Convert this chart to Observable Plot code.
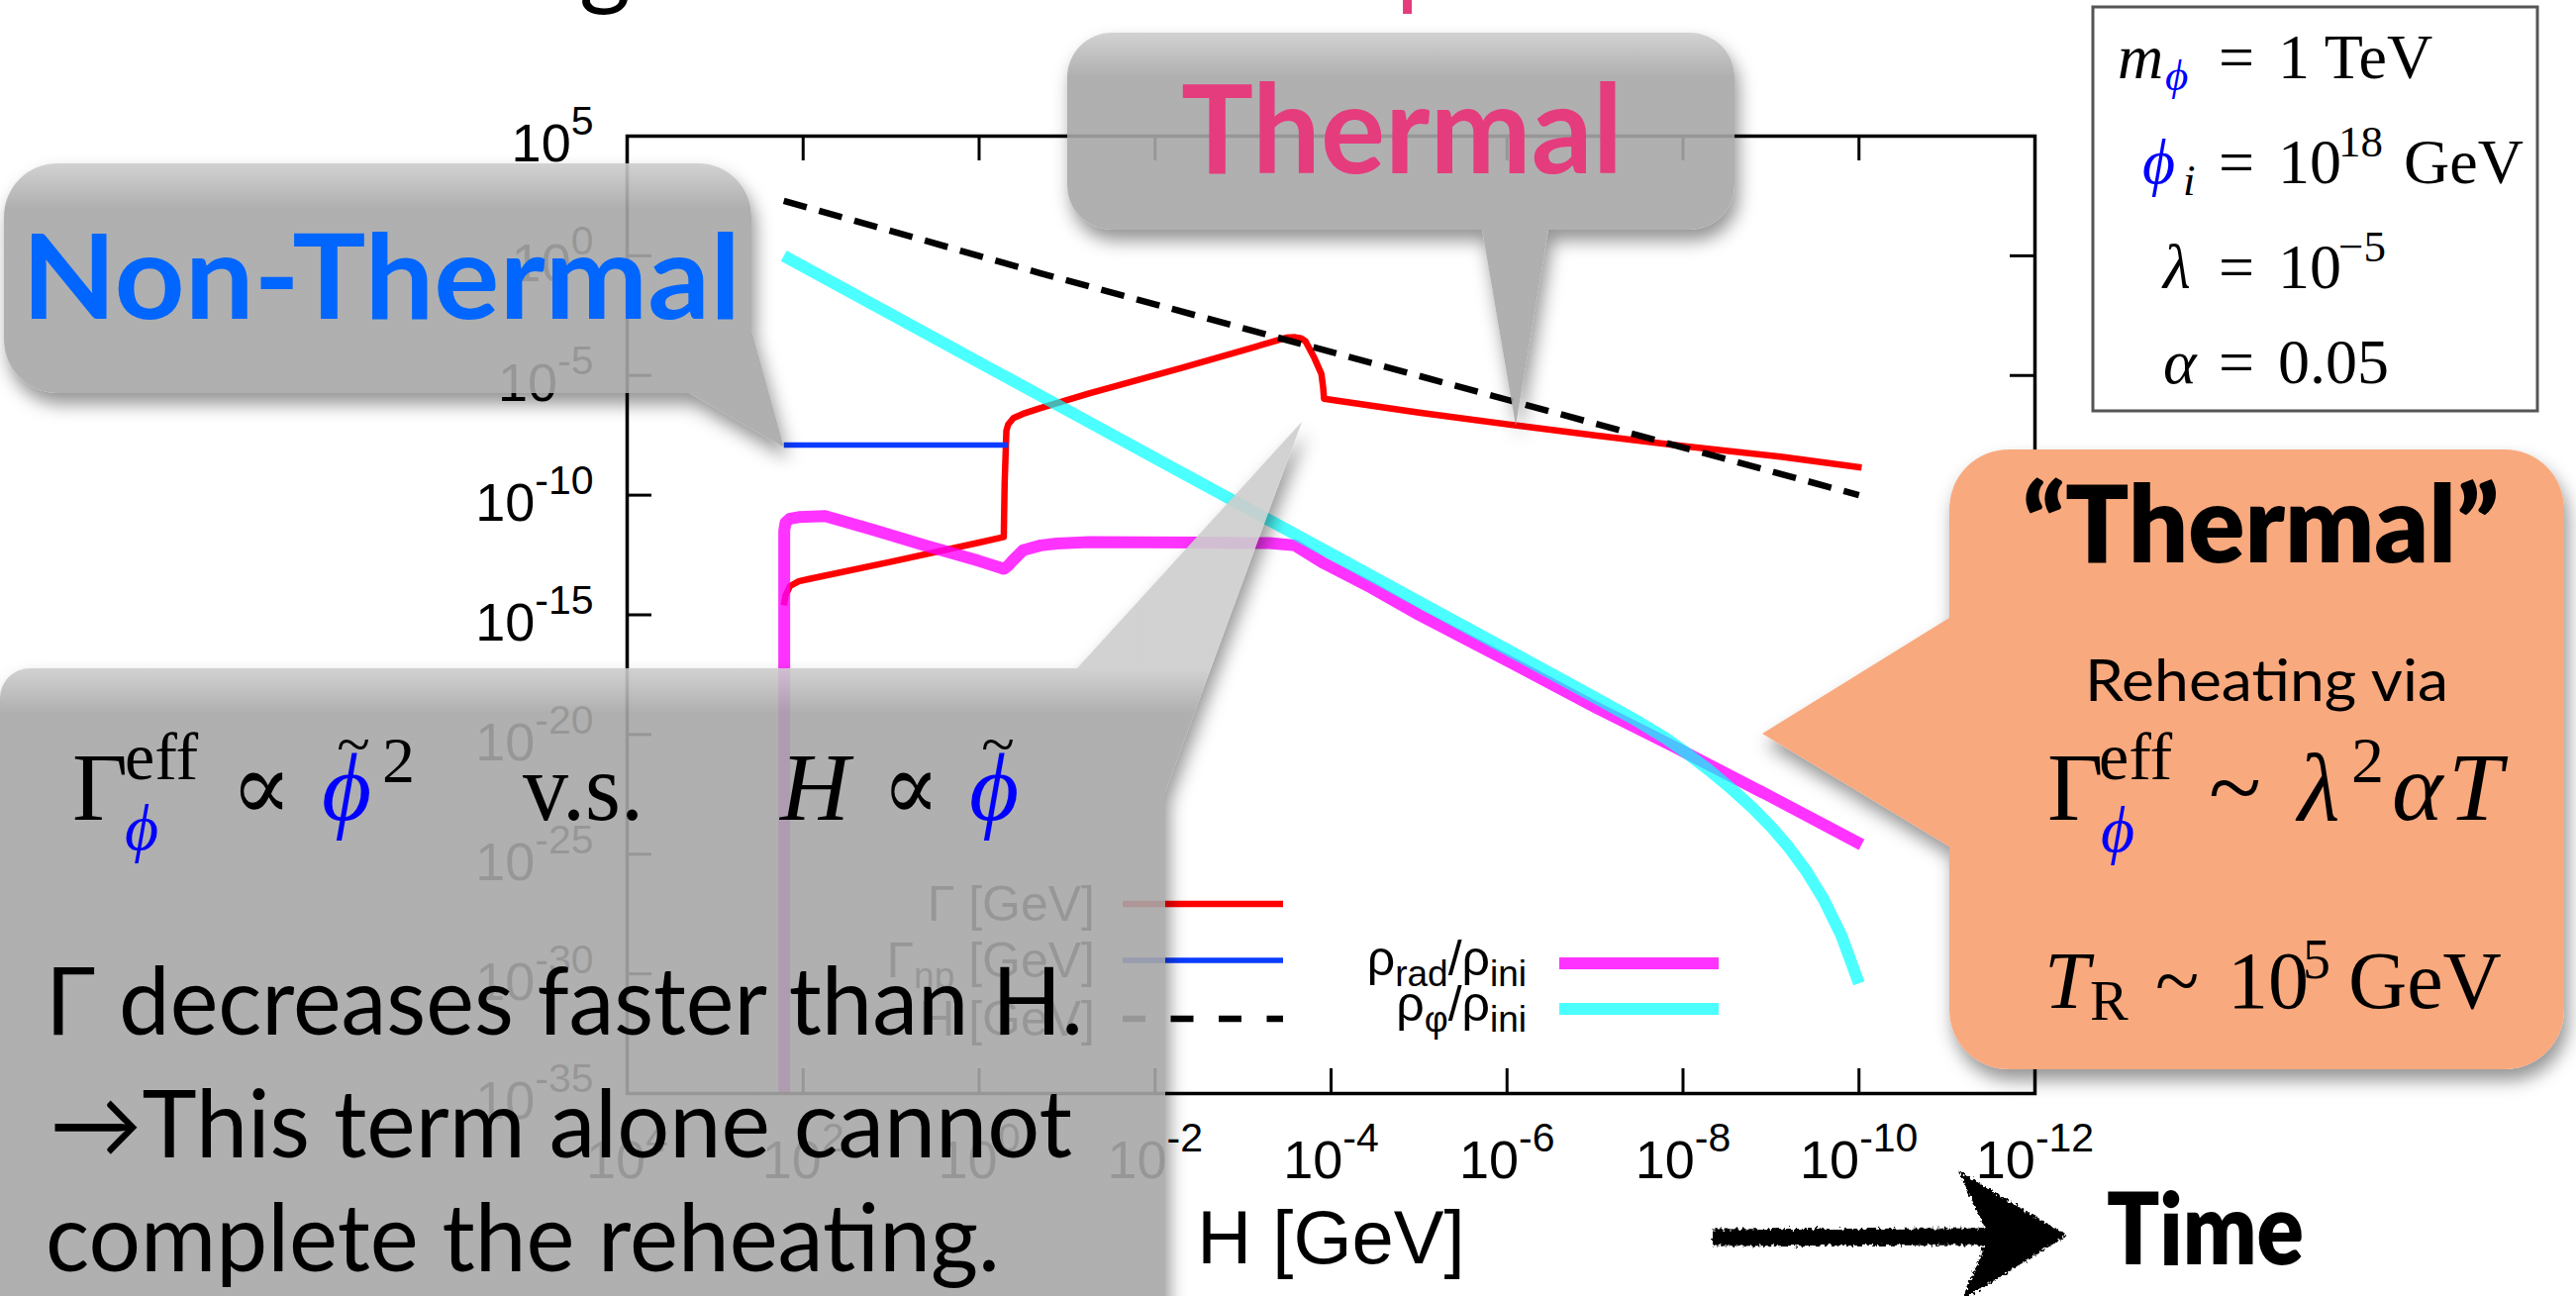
<!DOCTYPE html>
<html><head><meta charset="utf-8">
<script src="https://cdn.jsdelivr.net/npm/d3@7"></script>
<script src="https://cdn.jsdelivr.net/npm/@observablehq/plot@0.6"></script>
<style>
html,body{margin:0;padding:0;background:#fff;}
#wrap{position:relative;width:2602px;height:1309px;overflow:hidden;background:#fff;}
#chart{position:absolute;left:0;top:0;}
#over{position:absolute;left:0;top:0;}
</style></head><body>
<div id="wrap"><div id="chart"></div><svg id="over" width="2602" height="1309" xmlns="http://www.w3.org/2000/svg"></svg></div>
<script>
// ---- data (values are log10 exponents: [log10 H, log10 value]) ----
const xTickExps = [4, 2, 0, -2, -4, -6, -8, -10, -12];
const yTickExps = [5, 0, -5, -10, -15, -20, -25, -30, -35];
const seriesNames = ["Γ [GeV]", "Γnp [GeV]", "H [GeV]", "ρrad/ρini", "ρφ/ρini"];
const seriesColors = ["#ff0000", "#0a3cff", "#000000", "#ff00ff", "#00ffff"];

const gammaLog = [[2.22,-14.6],[2.2,-14.2],[2.15,-13.8],[2.05,-13.6],[1.93,-13.5],[1.0,-12.78],[0.0,-11.98],[-0.28,-11.75],
  [-0.29,-9.5],[-0.31,-7.3],[-0.33,-7.05],[-0.39,-6.78],[-0.5,-6.6],[-0.69,-6.37],[-1.25,-5.75],[-2.3,-4.68],[-3.0,-3.95],
  [-3.49,-3.42],[-3.59,-3.40],[-3.66,-3.45],[-3.71,-3.57],[-3.81,-4.27],[-3.89,-4.93],[-3.91,-5.5],[-3.92,-5.97],
  [-5.0,-6.55],[-6.07,-7.07],[-7.0,-7.5],[-8.0,-7.95],[-9.13,-8.4],[-10.03,-8.85]];
const gammaNpLog = [[2.22,-7.91],[-0.33,-7.91]];
const hubbleLog = [[2.22,2.3],[-0.69,-0.72],[-10.0,-10.0]];
const rhoRadLog = [[2.215,-45],[2.215,-11.5],[2.2,-11.15],[2.15,-10.98],[2.05,-10.92],[1.75,-10.87],[1.2,-11.45],[0.62,-12.09],
  [0.0,-12.75],[-0.28,-13.08],[-0.33,-12.95],[-0.37,-12.78],[-0.5,-12.3],[-0.7,-12.1],[-0.88,-12.02],[-1.25,-11.96],
  [-2.5,-11.98],[-3.3,-12.0],[-3.59,-12.1],[-3.92,-12.85],[-4.46,-13.87],[-5.0,-15.0],[-6.07,-17.04],[-7.0,-18.85],
  [-7.92,-20.55],[-9.0,-22.6],[-10.03,-24.6]];
const rhoPhiLog = [[2.22,0.0],[1.0,-2.45],[0,-4.45],[-1,-6.45],[-2,-8.45],[-3,-10.45],[-4,-12.45],[-5,-14.45],[-6,-16.45],
  [-7,-18.45],[-7.5,-19.48],[-7.8,-20.15],[-8.05,-20.8],[-8.3,-21.5],[-8.56,-22.3],[-8.8,-23.1],[-9.0,-23.85],
  [-9.2,-24.7],[-9.4,-25.7],[-9.6,-26.9],[-9.8,-28.4],[-10.0,-30.4]];

// ---- build ----
const toPts = arr => arr.map(([h, v]) => ({H: 10 ** h, v: 10 ** v}));
const xTicks = xTickExps.map(e => 10 ** e);
const yTicks = yTickExps.map(e => 10 ** e);
const fmt = d => "10^" + Math.round(Math.log10(d));
const lineOpts = {x: "H", y: "v", clip: true, strokeLinecap: "butt", strokeLinejoin: "round"};

const chart = Plot.plot({
  width: 2602, height: 1309,
  marginLeft: 633, marginRight: 547, marginTop: 137, marginBottom: 205,
  x: {type: "log", domain: [1e4, 1e-12]},
  y: {type: "log", domain: [1e-35, 1e5]},
  style: {background: "transparent", fontFamily: "'Liberation Sans', Arial, sans-serif", color: "black"},
  marks: [
    Plot.line(toPts(gammaLog), {...lineOpts, stroke: seriesColors[0], strokeWidth: 6.5}),
    Plot.line(toPts(gammaNpLog), {...lineOpts, stroke: seriesColors[1], strokeWidth: 5.5}),
    Plot.line(toPts(hubbleLog), {...lineOpts, stroke: seriesColors[2], strokeWidth: 6.5, strokeDasharray: "24,13"}),
    Plot.line(toPts(rhoRadLog), {...lineOpts, stroke: seriesColors[3], strokeOpacity: 0.8, strokeWidth: 12}),
    Plot.line(toPts(rhoPhiLog), {...lineOpts, stroke: seriesColors[4], strokeOpacity: 0.7, strokeWidth: 12}),
    Plot.tickX(xTicks, {x: d => d, stroke: "black", strokeWidth: 3, insetTop: 942}),
    Plot.tickX(xTicks, {x: d => d, stroke: "black", strokeWidth: 3, insetBottom: 942}),
    Plot.tickY(yTicks, {y: d => d, stroke: "black", strokeWidth: 3, insetRight: 1397}),
    Plot.tickY(yTicks, {y: d => d, stroke: "black", strokeWidth: 3, insetLeft: 1397}),
    Plot.frame({stroke: "black", strokeWidth: 3.5}),
    Plot.axisX(xTicks, {tickSize: 0, tickPadding: 47, fontSize: 54, tickFormat: fmt, label: null}),
    Plot.axisY(yTicks, {tickSize: 0, tickPadding: 34, fontSize: 54, tickFormat: fmt, label: null}),
    Plot.text(["H [GeV]"], {text: d => d, frameAnchor: "bottom", dy: 171, lineAnchor: "bottom", fontSize: 76})
  ]
});
document.getElementById("chart").appendChild(chart);

const NS = "http://www.w3.org/2000/svg";
// superscript exponents on tick labels
chart.querySelectorAll('g[aria-label="x-axis tick label"] text, g[aria-label="y-axis tick label"] text').forEach(t => {
  const parts = t.textContent.split("^");
  if (parts.length !== 2) return;
  t.textContent = parts[0];
  const ts = document.createElementNS(NS, "tspan");
  ts.setAttribute("dy", "-27");
  ts.setAttribute("font-size", "41");
  ts.textContent = parts[1];
  t.appendChild(ts);
});
chart.querySelectorAll('g[aria-label="y-axis tick label"] text').forEach(t => t.setAttribute("y", "0.48em"));

// ---- overlay (legend + slide annotations) ----
const over = document.getElementById("over");
const SANS = "'Liberation Sans', Arial, sans-serif";
const SERIF = "'Liberation Serif', 'DejaVu Serif', serif";
const SLIDE = "Lato, 'Open Sans', sans-serif";
function el(tag, attrs, parent = over) {
  const e = document.createElementNS(NS, tag);
  for (const k in attrs) e.setAttribute(k, attrs[k]);
  parent.appendChild(e); return e;
}
function T(parent, x, y, s, o = {}) {
  const e = el("text", {x, y, "font-size": o.size || 50, "font-family": o.family || SANS, fill: o.fill || "black"}, parent);
  if (o.weight) e.setAttribute("font-weight", o.weight);
  if (o.style) e.setAttribute("font-style", o.style);
  if (o.anchor) e.setAttribute("text-anchor", o.anchor);
  if (o.len) { e.setAttribute("textLength", o.len); e.setAttribute("lengthAdjust", "spacingAndGlyphs"); }
  e.textContent = s; return e;
}
function span(parent, s, o = {}) {
  const e = el("tspan", {}, parent);
  if (o.dy) e.setAttribute("dy", o.dy);
  if (o.size) e.setAttribute("font-size", o.size);
  if (o.fill) e.setAttribute("fill", o.fill);
  if (o.style) e.setAttribute("font-style", o.style);
  e.textContent = s; return e;
}
const defs = el("defs", {});
const blur = el("filter", {id: "blur", x: "-30%", y: "-30%", width: "160%", height: "180%"}, defs);
el("feGaussianBlur", {stdDeviation: 9}, blur);
const rough = el("filter", {id: "rough", x: "-10%", y: "-30%", width: "120%", height: "160%"}, defs);
el("feTurbulence", {type: "fractalNoise", baseFrequency: "0.3", numOctaves: 2, seed: 4, result: "n"}, rough);
el("feDisplacementMap", {in: "SourceGraphic", in2: "n", scale: 8, xChannelSelector: "R", yChannelSelector: "G"}, rough);

// legend (inside plot, under the callouts)
const lg = el("g", {});
const legY = [913, 970, 1029, 973, 1019];
el("line", {x1: 1134, x2: 1296, y1: legY[0], y2: legY[0], stroke: seriesColors[0], "stroke-width": 6.5}, lg);
el("line", {x1: 1134, x2: 1296, y1: legY[1], y2: legY[1], stroke: seriesColors[1], "stroke-width": 5.5}, lg);
el("line", {x1: 1134, x2: 1296, y1: legY[2], y2: legY[2], stroke: seriesColors[2], "stroke-width": 6.5, "stroke-dasharray": "23,25.5"}, lg);
el("line", {x1: 1575, x2: 1736, y1: legY[3], y2: legY[3], stroke: seriesColors[3], "stroke-opacity": 0.8, "stroke-width": 12}, lg);
el("line", {x1: 1575, x2: 1736, y1: legY[4], y2: legY[4], stroke: seriesColors[4], "stroke-opacity": 0.7, "stroke-width": 12}, lg);
T(lg, 1106, legY[0] + 17, seriesNames[0], {size: 50, anchor: "end"});
{ const t = T(lg, 1106, legY[1] + 17, "Γ", {size: 50, anchor: "end"}); span(t, "np", {dy: 11, size: 37}); span(t, " [GeV]", {dy: -11, size: 50}); }
T(lg, 1106, legY[2] + 17, seriesNames[2], {size: 50, anchor: "end"});
{ const t = T(lg, 1542, legY[3] + 12, "ρ", {size: 50, anchor: "end"}); span(t, "rad", {dy: 11, size: 37}); span(t, "/ρ", {dy: -11, size: 50}); span(t, "ini", {dy: 11, size: 37}); }
{ const t = T(lg, 1542, legY[4] + 12, "ρ", {size: 50, anchor: "end"}); span(t, "φ", {dy: 11, size: 37}); span(t, "/ρ", {dy: -11, size: 50}); span(t, "ini", {dy: 11, size: 37}); }

// callouts
let mk = 0;
function bubble(d, fill, opacity, top) {
  const id = "mask" + (mk++);
  const m = el("mask", {id, maskUnits: "userSpaceOnUse", x: -200, y: -200, width: 3000, height: 1800}, defs);
  el("rect", {x: -200, y: -200, width: 3000, height: 1800, fill: "white"}, m);
  el("path", {d, fill: "black"}, m);
  const g = el("g", {mask: `url(#${id})`});
  el("path", {d, fill: "black", "fill-opacity": 0.42, filter: "url(#blur)", transform: "translate(4,11)"}, g);
  let f = fill;
  if (top !== undefined) {
    const gid = "grad" + mk;
    const lgd = el("linearGradient", {id: gid, gradientUnits: "userSpaceOnUse", x1: 0, x2: 0, y1: top, y2: top + 45}, defs);
    el("stop", {offset: 0, "stop-color": "#cdcdcd"}, lgd);
    el("stop", {offset: 1, "stop-color": fill}, lgd);
    f = `url(#${gid})`;
  }
  return el("path", {d, fill: f, "fill-opacity": opacity});
}
const GRAY = "#a7a7a7";
// "Thermal" callout
bubble("M1123 33 H1707 A45 45 0 0 1 1752 78 V187 A45 45 0 0 1 1707 232 H1564 L1531 430 L1497 232 H1123 A45 45 0 0 1 1078 187 V78 A45 45 0 0 1 1123 33 Z", GRAY, 0.9, 33);
T(over, 1193, 175, "Thermal", {size: 125, weight: 700, family: SLIDE, fill: "#e53c7d", len: 446});
// "Non-Thermal" callout
bubble("M58 165 H705 A54 54 0 0 1 759 219 V333 L792 452 L696 397 H58 A54 54 0 0 1 4 343 V219 A54 54 0 0 1 58 165 Z", GRAY, 0.9, 165);
T(over, 22, 322, "Non-Thermal", {size: 118, weight: 700, family: SLIDE, fill: "#0066ff", len: 726});
// bottom-left explanation callout
bubble("M30 675 H1088 L1315 426 L1177 800 V1400 H0 V705 A30 30 0 0 1 30 675 Z", GRAY, 0.9, 675);
const BLUE = "#0000ff";
T(over, 73, 828, "Γ", {size: 97, family: SERIF});
T(over, 126, 787, "eff", {size: 68, family: SERIF});
T(over, 126, 858, "ϕ", {size: 66, family: SERIF, style: "italic", fill: BLUE});
T(over, 233, 828, "∝", {size: 97, family: SERIF, len: 62});
T(over, 325, 828, "ϕ", {size: 97, family: SERIF, style: "italic", fill: BLUE});
T(over, 357, 772, "~", {size: 62, family: SERIF, anchor: "middle"});
T(over, 386, 790, "2", {size: 66, family: SERIF});
T(over, 528, 828, "v.s.", {size: 97, family: SERIF, len: 122});
T(over, 788, 828, "H", {size: 97, family: SERIF, style: "italic"});
T(over, 891, 828, "∝", {size: 97, family: SERIF, len: 58});
T(over, 979, 828, "ϕ", {size: 97, family: SERIF, style: "italic", fill: BLUE});
T(over, 1008, 772, "~", {size: 62, family: SERIF, anchor: "middle"});
T(over, 46, 1045, "Γ decreases faster than H.", {size: 95, family: SLIDE, len: 1048});
T(over, 50, 1169, "→This term alone cannot", {size: 95, family: SLIDE, len: 1033});
T(over, 46, 1284, "complete the reheating.", {size: 95, family: SLIDE, len: 964});

// parameter box
el("rect", {x: 2114, y: 7, width: 449, height: 408, fill: "white", stroke: "#555", "stroke-width": 3});
T(over, 2139, 79, "m", {size: 64, family: SERIF, style: "italic"});
T(over, 2187, 91, "ϕ", {size: 45, family: SERIF, style: "italic", fill: BLUE});
T(over, 2164, 185, "ϕ", {size: 64, family: SERIF, style: "italic", fill: BLUE});
T(over, 2205, 197, "i", {size: 45, family: SERIF, style: "italic"});
T(over, 2185, 291, "λ", {size: 64, family: SERIF, style: "italic"});
T(over, 2185, 387, "α", {size: 64, family: SERIF, style: "italic"});
[79, 185, 291, 387].forEach(y => T(over, 2241, y, "=", {size: 64, family: SERIF}));
T(over, 2301, 79, "1 TeV", {size: 64, family: SERIF});
T(over, 2301, 185, "10", {size: 64, family: SERIF});
T(over, 2362, 158, "18", {size: 45, family: SERIF});
T(over, 2428, 185, "GeV", {size: 64, family: SERIF});
T(over, 2301, 291, "10", {size: 64, family: SERIF});
T(over, 2362, 264, "−5", {size: 45, family: SERIF});
T(over, 2301, 387, "0.05", {size: 64, family: SERIF});

// orange "Thermal" callout
bubble("M2029 454 H2530 A60 60 0 0 1 2590 514 V1020 A60 60 0 0 1 2530 1080 H2029 A60 60 0 0 1 1969 1020 V855 L1780 741 L1969 624 V514 A60 60 0 0 1 2029 454 Z", "#f9a97e", 1);
T(over, 2043, 568, "“Thermal”", {size: 108, weight: 800, family: SLIDE, len: 481});
T(over, 2106, 708, "Reheating via", {size: 58, family: SLIDE, len: 367});
T(over, 2068, 828, "Γ", {size: 98, family: SERIF});
T(over, 2120, 787, "eff", {size: 68, family: SERIF});
T(over, 2122, 860, "ϕ", {size: 66, family: SERIF, style: "italic", fill: BLUE});
T(over, 2231, 828, "~", {size: 98, family: SERIF});
T(over, 2321, 828, "λ", {size: 98, family: SERIF, style: "italic"});
T(over, 2375, 790, "2", {size: 66, family: SERIF});
T(over, 2416, 828, "α", {size: 98, family: SERIF, style: "italic"});
T(over, 2473, 828, "T", {size: 98, family: SERIF, style: "italic"});
T(over, 2065, 1018, "T", {size: 82, family: SERIF, style: "italic"});
T(over, 2111, 1030, "R", {size: 58, family: SERIF});
T(over, 2177, 1018, "~", {size: 82, family: SERIF});
T(over, 2250, 1018, "10", {size: 82, family: SERIF});
T(over, 2326, 988, "5", {size: 56, family: SERIF});
T(over, 2372, 1018, "GeV", {size: 82, family: SERIF});

// time arrow
const ar = el("g", {filter: "url(#rough)"});
el("path", {d: "M1730 1250 L2030 1249", stroke: "black", "stroke-width": 17, fill: "none"}, ar);
el("path", {d: "M1985 1190 L2082 1248 L1988 1306 L2012 1248 Z", fill: "black", stroke: "black", "stroke-width": 6}, ar);
T(over, 2128, 1277, "Time", {size: 100, weight: 800, family: SLIDE, len: 199});

// cut-off title glyphs at the top edge
T(over, 585, -3, "g", {size: 100, family: SLIDE});
T(over, 1410, -3, "p", {size: 100, family: SLIDE, fill: "#e53c7d"});
</script>
</body></html>
